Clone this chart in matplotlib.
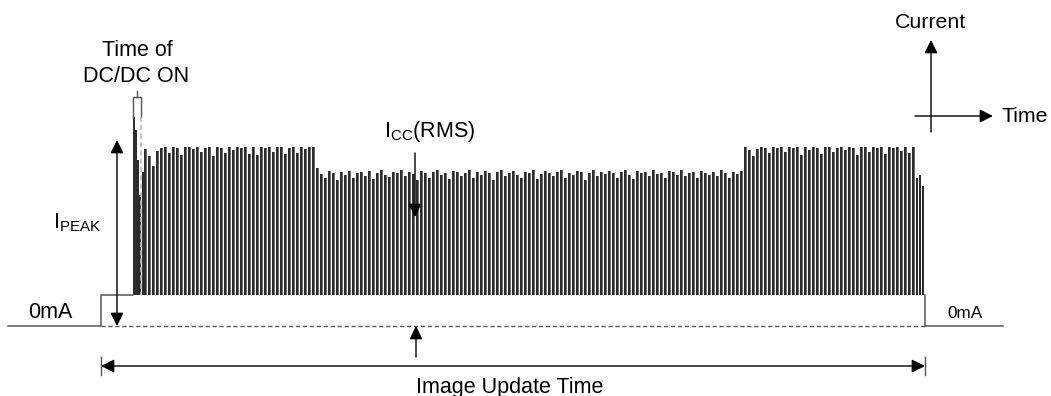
import numpy as np
import matplotlib
matplotlib.use('Agg')
from matplotlib import pyplot as plt

plt.rcParams['font.family'] = ['Liberation Sans', 'DejaVu Sans']
plt.rcParams['mathtext.fontset'] = 'custom'
plt.rcParams['mathtext.rm'] = 'Liberation Sans'

# ---- data (arbitrary current units, 0 = 0mA; time in arbitrary units) ----
idle_level = 31          # pedestal after power on
t_start = 101            # start of image update
t_end = 925              # end of image update
t_pulse0 = 144           # first regular pulse
pulse_period = 4

# DC/DC start-up spikes
startup_t = [133, 135, 137, 139, 142]
startup_peak = [209, 196, 166, 131, 154]

seg1_peak = [177, 170, 160, 175, 178, 179, 173, 179, 178, 171, 179, 179,
             177, 179, 174, 178, 179, 170, 179, 178, 173, 179, 176, 179,
             178, 179, 172, 179, 171, 179, 178, 179, 174, 179, 179, 172,
             178, 179, 173, 179, 177, 179, 179]
seg2_peak = [158, 152, 148, 155, 153, 146, 154, 151, 155, 148, 153, 154,
             150, 155, 147, 153, 156, 151, 149, 154, 153, 156, 150, 154,
             152, 146, 155, 153, 148, 154, 156, 151, 153, 147, 155, 154,
             150, 153, 156, 148, 154, 151, 155, 153, 146, 154, 156, 150,
             153, 155, 151, 148, 154, 153, 156, 147, 152, 155, 153, 150,
             154, 156, 148, 153, 151, 155, 154, 146, 153, 156, 150, 154,
             152, 155, 153, 148, 154, 156, 151, 147, 155, 153, 154, 150,
             156, 152, 153, 148, 155, 154, 151, 156, 150, 153, 154, 148,
             155, 153, 151, 154, 150, 156, 153, 148, 154, 152, 155]
seg3_peak = [179, 176, 170, 177, 179, 178, 173, 179, 178, 179, 174, 179,
             178, 179, 171, 179, 176, 179, 178, 172, 179, 179, 174, 178,
             179, 176, 179, 178, 171, 179, 179, 174, 179, 178, 179, 172,
             179, 178, 179, 175, 179, 173, 179]
tail_t = [916, 919, 922]
tail_peak = [148, 151, 140]

peaks = seg1_peak + seg2_peak + seg3_peak
pulse_t = t_pulse0 + pulse_period * np.arange(len(peaks))

fig = plt.figure(figsize=(10.51, 3.96), dpi=100)
ax = fig.add_axes([0, 0, 1, 1])
ax.set_xlim(0, 1051)
ax.set_ylim(-70, 326)
ax.axis('off')

bar_col = '#2c2c2c'
line_col = '#555555'

# pulses: dark body with a lighter trailing edge
ax.bar(pulse_t, np.array(peaks) - idle_level, bottom=idle_level, width=3.0,
       align='edge', color='#6e6e6e', linewidth=0)
ax.bar(pulse_t, np.array(peaks) - idle_level, bottom=idle_level, width=2.0,
       align='edge', color=bar_col, linewidth=0)
ax.bar(startup_t, np.array(startup_peak) - idle_level, bottom=idle_level,
       width=2.0, align='edge', color=bar_col, linewidth=0)
ax.bar(tail_t, np.array(tail_peak) - idle_level, bottom=idle_level, width=2.0,
       align='edge', color=bar_col, linewidth=0)

# waveform outline
ax.plot([8, t_start, t_start, 133], [0, 0, idle_level, idle_level],
        color=line_col, lw=1.1)
ax.plot([t_end, t_end, 1003], [idle_level, 0, 0], color=line_col, lw=1.1)
ax.plot([t_start, t_end], [0, 0], color=line_col, lw=1, ls=(0, (3, 2)))

# DC/DC ON bracket
ax.plot([137, 137], [229, 235], color=line_col, lw=1)
ax.plot([133, 133, 141, 141], [209, 229, 229, 209], color=line_col, lw=1)
ax.plot([141, 141], [209, idle_level], color='#bbbbbb', lw=1.2,
        ls=(0, (3, 2)))
ax.text(137, 276, 'Time of', ha='center', va='center', fontsize=15.5)
ax.text(136, 250, 'DC/DC ON', ha='center', va='center', fontsize=15.5)

arrow = dict(arrowstyle='-|>', color='black', lw=1, mutation_scale=20,
             shrinkA=0, shrinkB=0)
arrow2 = dict(arrowstyle='<|-|>', color='black', lw=1, mutation_scale=20,
              shrinkA=0, shrinkB=0)

# I_PEAK
ax.annotate('', xy=(117, 186), xytext=(117, 0), arrowprops=arrow2)
ax.text(77, 103, r'$\mathrm{I_{PEAK}}$', ha='center', va='center',
        fontsize=15.5)
ax.text(50, 14, '0mA', ha='center', va='center', fontsize=15.5)
ax.text(965, 12, '0mA', ha='center', va='center', fontsize=12.3)

# I_CC(RMS)
ax.annotate('', xy=(415, 109), xytext=(415, 173), arrowprops=arrow)
ax.text(430, 194, r'$\mathrm{I_{CC}}$(RMS)', ha='center', va='center',
        fontsize=15.5)
ax.annotate('', xy=(416, 0), xytext=(416, -31), arrowprops=arrow)

# image update time
ax.annotate('', xy=(t_start, -40), xytext=(t_end, -40), arrowprops=arrow2)
ax.plot([t_start, t_start], [-31, -49], color=line_col, lw=1)
ax.plot([t_end, t_end], [-31, -49], color=line_col, lw=1)
ax.text(510, -61, 'Image Update Time', ha='center', va='center',
        fontsize=15.5)

# axes legend
ax.annotate('', xy=(931, 286), xytext=(931, 194), arrowprops=arrow)
ax.annotate('', xy=(993, 210), xytext=(915, 210), arrowprops=arrow)
ax.text(930, 304, 'Current', ha='center', va='center', fontsize=15.3)
ax.text(1002, 210, 'Time', ha='left', va='center', fontsize=15.3)

fig.savefig('out.png', dpi=100)
